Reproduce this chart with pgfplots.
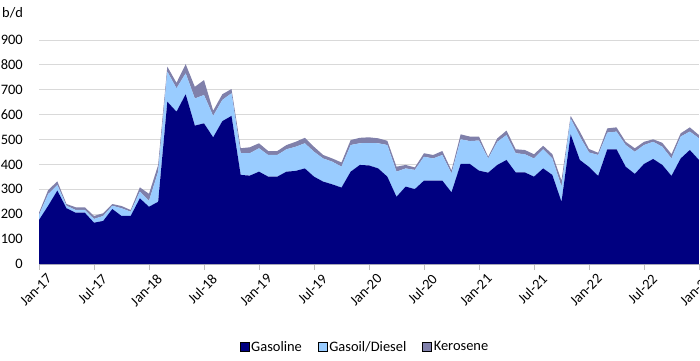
\documentclass[border=0pt]{standalone}
\usepackage{fontspec}
\setmainfont{Carlito}
\usepackage{pgfplots}
\pgfplotsset{compat=1.18}
\usepackage{pgfplotstable}
\definecolor{gas}{RGB}{0,0,128}
\definecolor{dies}{RGB}{153,204,255}
\definecolor{kero}{RGB}{128,128,170}
\definecolor{gridc}{RGB}{217,217,217}
\definecolor{axc}{RGB}{191,191,191}
\pgfplotstableread{
i gas dies kero
0 177 20 9
1 234 47 16
2 295 22 15
3 224 10 7
4 206 11 11
5 206 11 11
6 166 15 12
7 173 20 11
8 221 13 7
9 193 31 9
10 193 17 7
11 264 27 17
12 230 24 28
13 250 121 27
14 652 121 20
15 612 94 22
16 682 84 37
17 556 109 47
18 565 114 60
19 509 86 21
20 574 85 23
21 595 91 17
22 358 87 20
23 355 90 24
24 371 94 20
25 351 87 16
26 351 87 16
27 371 90 17
28 374 97 20
29 384 101 22
30 351 100 20
31 331 93 14
32 320 91 13
33 307 84 17
34 371 107 20
35 398 87 22
36 396 90 23
37 384 101 20
38 351 127 17
39 270 101 20
40 311 73 14
41 301 77 10
42 335 96 14
43 335 89 14
44 335 103 16
45 288 76 12
46 402 99 20
47 402 92 18
48 375 121 16
49 367 57 7
50 398 93 14
51 418 100 18
52 368 77 16
53 368 73 17
54 351 73 17
55 384 77 14
56 358 66 17
57 250 61 24
58 521 64 10
59 418 94 20
60 390 58 14
61 354 84 9
62 461 67 17
63 461 71 17
64 391 87 13
65 362 89 14
66 402 76 13
67 422 69 10
68 398 73 16
69 354 70 17
70 424 88 13
71 458 74 17
72 418 87 13
}\data
\begin{document}
\begin{tikzpicture}[font=\fontsize{14.5}{17}\selectfont]
\useasboundingbox (-39bp,-97bp) rectangle (661bp,264bp);
\begin{axis}[
  at={(0,0)}, anchor=south west,
  scale only axis, width=660bp, height=224bp,
  xmin=0, xmax=72, ymin=0, ymax=900,
  stack plots=y,
  axis x line*=bottom, axis y line*=left,
  axis line style={-},
  y axis line style={draw=none},
  x axis line style={axc, line width=0.8bp},
  ytick={0,100,...,900},
  ytick style={draw=none},
  xtick={0,6,...,72},
  xticklabels={Jan-17,Jul-17,Jan-18,Jul-18,Jan-19,Jul-19,Jan-20,Jul-20,Jan-21,Jul-21,Jan-22,Jul-22,Jan-23},
  xtick style={axc, line width=0.8bp},
  tick align=outside, major tick length=6bp,
  xticklabel style={rotate=45, anchor=north east, inner sep=0pt, xshift=3bp, yshift=-7bp},
  yticklabel style={anchor=east, inner sep=0pt, xshift=-10bp},
  /pgf/number format/assume math mode=true,
  ymajorgrids, grid style={gridc, line width=0.8bp},
  legend style={at={(0.494,-0.37)}, anchor=center, legend columns=3, draw=none, fill=none,
    /tikz/every even column/.append style={column sep=14bp}, inner sep=0pt,
    nodes={inner sep=2bp}},
  legend image code/.code={\draw[#1] (0bp,-4.5bp) rectangle (9bp,4.5bp);},
]
\addplot[fill=gas, draw=none] table[x=i, y=gas]{\data} \closedcycle;
\addlegendentry{Gasoline}
\addplot[fill=dies, draw=none] table[x=i, y=dies]{\data} \closedcycle;
\addlegendentry{Gasoil/Diesel}
\addplot[fill=kero, draw=none] table[x=i, y=kero]{\data} \closedcycle;
\addlegendentry{Kerosene}
\end{axis}
\node[anchor=west, inner sep=0pt] at (-37bp,251bp) {b/d};
\end{tikzpicture}
\end{document}
